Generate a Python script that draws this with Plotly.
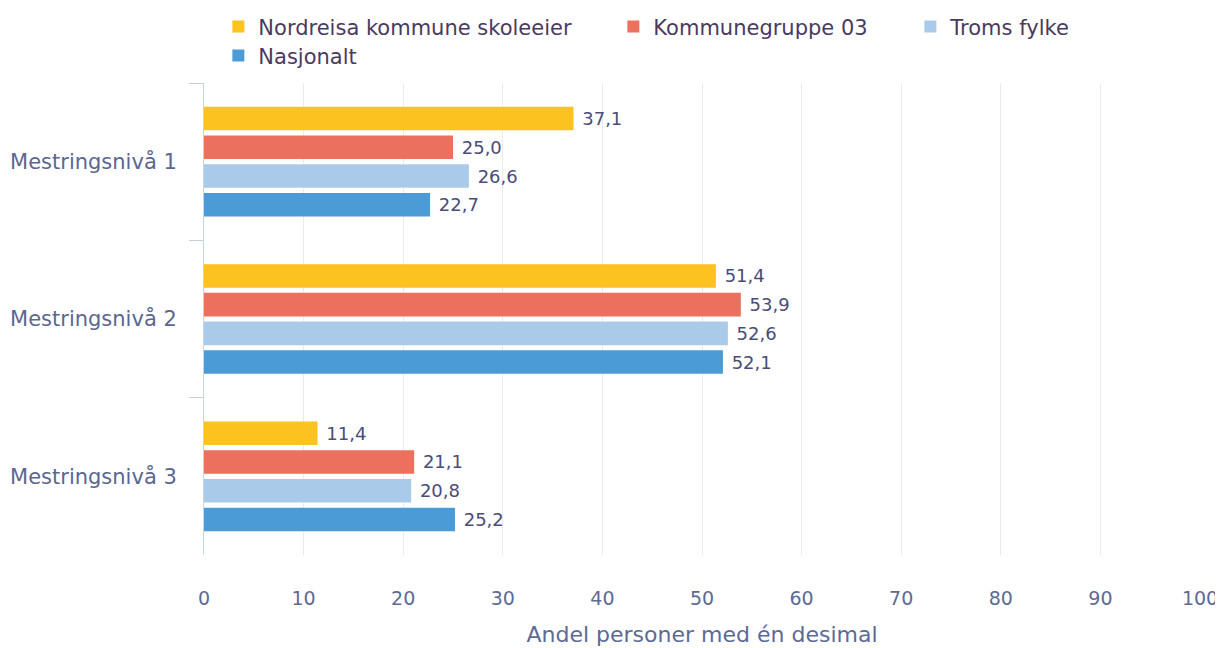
import plotly.graph_objects as go

categories = ["Mestringsnivå 1", "Mestringsnivå 2", "Mestringsnivå 3"]
nordreisa = [37.1, 51.4, 11.4]
kommunegruppe = [25.0, 53.9, 21.1]
troms = [26.6, 52.6, 20.8]
nasjonalt = [22.7, 52.1, 25.2]

# name, values, colour, legend, legend entry width
series = [
    ("Nordreisa kommune skoleeier", nordreisa, "#FCC21F", "legend", 350),
    ("Kommunegruppe 03", kommunegruppe, "#EC705E", "legend", 252),
    ("Troms fylke", troms, "#A9CBE9", "legend", None),
    ("Nasjonalt", nasjonalt, "#4B9BD7", "legend2", None),
]

font_family = "DejaVu Sans, Open Sans, sans-serif"

fig = go.Figure()
for name, vals, color, leg, lw in series:
    fig.add_trace(go.Bar(
        y=categories,
        x=vals,
        name=name,
        orientation="h",
        legend=leg,
        legendwidth=lw,
        marker=dict(color=color, line=dict(width=0)),
        texttemplate="\u00a0%{x:.1f}",
        textposition="outside",
        textfont=dict(size=18, color="#4b4c78", family=font_family),
        cliponaxis=False,
    ))

legend_style = dict(
    orientation="h",
    xref="container",
    yref="container",
    xanchor="left",
    yanchor="middle",
    font=dict(size=21, color="#4a3a5e", family=font_family),
    traceorder="normal",
    itemclick=False,
    bgcolor="rgba(0,0,0,0)",
)

fig.update_layout(
    width=1223,
    height=648,
    barmode="group",
    bargap=0.27,
    bargroupgap=0.18,
    separators=", ",
    plot_bgcolor="white",
    paper_bgcolor="white",
    margin=dict(l=196, r=31, t=75, b=101),
    font=dict(family=font_family, color="#4a4a6a"),
    legend=dict(legend_style, x=0.172, y=0.971),
    legend2=dict(legend_style, x=0.172, y=0.926),
    showlegend=True,
)

fig.update_xaxes(
    range=[0, 100],
    dtick=10,
    automargin=False,
    showgrid=True,
    gridcolor="#ebebeb",
    zeroline=False,
    showline=False,
    ticks="",
    ticklabelstandoff=30,
    tickfont=dict(size=19, color="#5d6a95"),
    title=dict(text="Andel personer med én desimal",
               font=dict(size=22, color="#5d6a95"), standoff=18),
)

fig.update_yaxes(
    autorange="reversed",
    automargin=False,
    showline=True,
    linecolor="#c2d5ec",
    linewidth=1,
    ticks="outside",
    tickson="boundaries",
    ticklen=14,
    tickcolor="#c8cfdc",
    ticklabelstandoff=22,
    tickfont=dict(size=21, color="#5c6690"),
    showgrid=False,
)

fig.write_html("out.html")
